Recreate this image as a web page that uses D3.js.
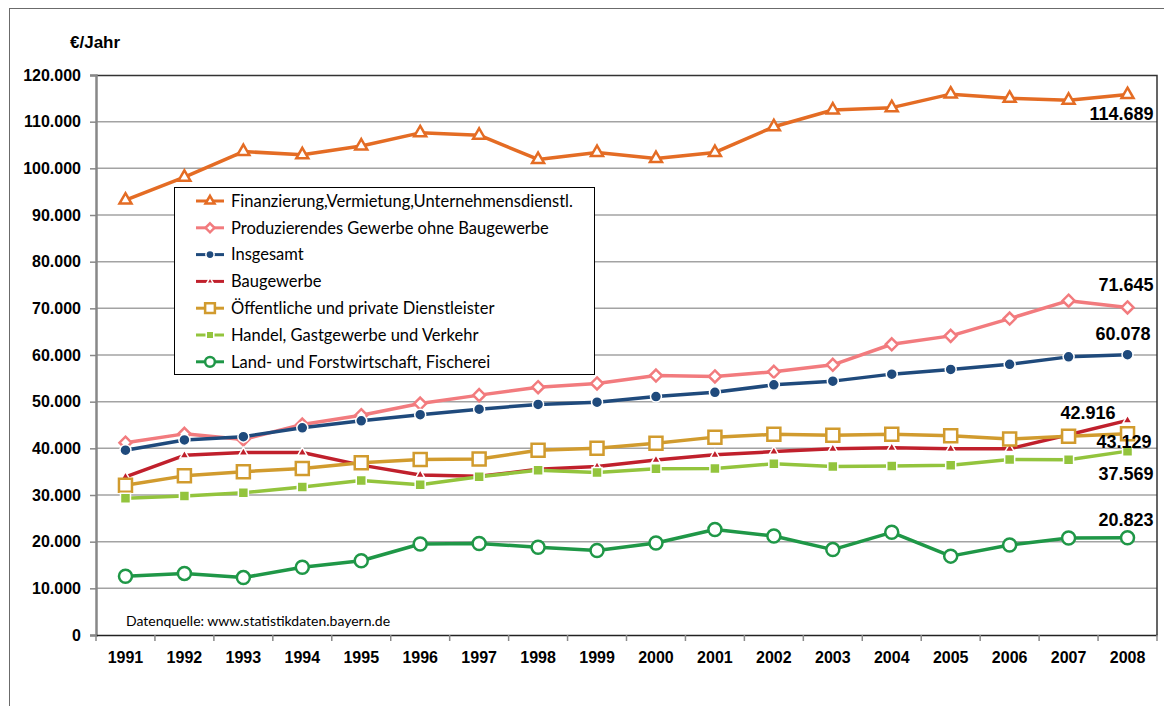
<!DOCTYPE html>
<html>
<head>
<meta charset="utf-8">
<script src="https://cdnjs.cloudflare.com/ajax/libs/d3/7.8.5/d3.min.js"></script>
<style>
  body { margin: 0; background: #fff; }
  .axis text { font-family: "Liberation Sans", Arial, sans-serif; font-weight: bold; fill: #000; }
  .legend text { font-family: Lato, "Open Sans", sans-serif; font-size: 16.5px; fill: #000; }
</style>
</head>
<body>
<div id="chart"></div>
<script>
// Line chart: Arbeitnehmerentgelt je Arbeitnehmer nach Wirtschaftsbereichen

// Data
var years = ["1991", "1992", "1993", "1994", "1995", "1996", "1997", "1998", "1999",
  "2000", "2001", "2002", "2003", "2004", "2005", "2006", "2007", "2008"];

var finanzierung = [93200, 98100, 103600, 102900, 104800, 107600, 107100, 101900, 103400,
  102100, 103400, 108900, 112500, 113000, 115900, 115000, 114600, 115800];
var produzierendes = [41200, 43100, 41900, 45100, 47100, 49600, 51400, 53100, 53900,
  55600, 55400, 56400, 57900, 62300, 64100, 67800, 71645, 70200];
var insgesamt = [39600, 41800, 42500, 44400, 45900, 47200, 48400, 49400, 49900,
  51100, 52000, 53600, 54400, 55900, 56900, 58000, 59600, 60078];
var baugewerbe = [33900, 38500, 39100, 39100, 36400, 34300, 34000, 35500, 36100,
  37500, 38600, 39300, 39900, 40100, 39900, 39900, 42916, 46000];
var oeffentliche = [32100, 34100, 35000, 35700, 36900, 37600, 37700, 39600, 40000,
  41100, 42400, 43000, 42800, 43000, 42700, 42000, 42600, 43129];
var handel = [29300, 29800, 30500, 31700, 33100, 32200, 33900, 35300, 34800,
  35600, 35700, 36700, 36100, 36200, 36400, 37600, 37569, 39400];
var land = [12600, 13200, 12300, 14500, 15900, 19500, 19600, 18800, 18100,
  19700, 22600, 21200, 18300, 22000, 16900, 19300, 20800, 20823];

var seriesNames = ["Finanzierung,Vermietung,Unternehmensdienstl.",
  "Produzierendes Gewerbe ohne Baugewerbe",
  "Insgesamt",
  "Baugewerbe",
  "Öffentliche und private Dienstleister",
  "Handel, Gastgewerbe und Verkehr",
  "Land- und Forstwirtschaft, Fischerei"];

var yTicks = [0, 10000, 20000, 30000, 40000, 50000, 60000, 70000, 80000, 90000,
  100000, 110000, 120000];

// value labels at the end of the lines
var endLabels = ["114.689", "71.645", "60.078", "42.916", "43.129", "37.569", "20.823"];

// Styles (one per series, same order as seriesNames)
var seriesStyle = [
  { color: "#E46C24", symbol: "triangle", size: 12, hollow: true },
  { color: "#F27B7E", symbol: "diamond", size: 10, hollow: true },
  { color: "#1F4A7C", symbol: "circle", size: 11, hollow: false },
  { color: "#C0202C", symbol: "triangle", size: 9, hollow: false },
  { color: "#D19B2E", symbol: "square", size: 13, hollow: true },
  { color: "#93C43D", symbol: "square", size: 10, hollow: false },
  { color: "#1F9747", symbol: "circle", size: 13, hollow: true }
];
// offsets of the end labels from the last point
var labelDx = [26, 26, 23, -12, 24, 26, 26];
var labelDy = [19, -23, -21, -8, 8, 22, -18];

var seriesValues = [finanzierung, produzierendes, insgesamt, baugewerbe, oeffentliche, handel, land];

// Size
var width = 1164;
var height = 706;

var margin = {
  top: 75,
  left: 96,
  right: 7,
  bottom: 71
};

var plotWidth = width - margin.left - margin.right;
var plotHeight = height - margin.top - margin.bottom;

var svg = d3.select("#chart")
  .append("svg")
  .attr("width", width)
  .attr("height", height)
  .style("display", "block");

svg.append("rect")
  .attr("width", width)
  .attr("height", height)
  .attr("fill", "#fff");

// outer chart frame (cut off at the right and bottom)
svg.append("rect")
  .attr("x", 9.5)
  .attr("y", 8.5)
  .attr("width", 1300)
  .attr("height", 900)
  .attr("fill", "none")
  .attr("stroke", "#6b6b6b")
  .attr("stroke-width", 1);

var g = svg.append("g")
  .attr("transform", "translate(" + margin.left + "," + margin.top + ")");

// German number format (120.000)
var de = d3.formatLocale({ decimal: ",", thousands: ".", grouping: [3], currency: ["", " €"] });
var fmt = de.format(",");

// scales
var x = d3.scaleBand()
  .domain(years)
  .range([0, plotWidth]);

var y = d3.scaleLinear()
  .domain([0, 120000])
  .range([plotHeight, 0]);

// gridlines
g.append("g")
  .attr("class", "grid")
  .selectAll("line")
  .data(yTicks.filter(function(d) { return d > 0 && d < 120000; }))
  .enter()
  .append("line")
  .attr("x1", 0)
  .attr("x2", plotWidth)
  .attr("y1", function(d) { return y(d); })
  .attr("y2", function(d) { return y(d); })
  .attr("stroke", "#a3a3a3")
  .attr("stroke-width", 1.5);

// plot area border top + right
g.append("path")
  .attr("d", "M0,0.5H" + plotWidth + "V" + plotHeight)
  .attr("fill", "none")
  .attr("stroke", "#333")
  .attr("stroke-width", 1.5);

// y axis
var yAxis = d3.axisLeft(y)
  .tickValues(yTicks)
  .tickFormat(fmt)
  .tickSize(6)
  .tickPadding(9);

var yAxisG = g.append("g")
  .attr("class", "axis y")
  .call(yAxis);
yAxisG.selectAll("text").style("font-size", "16px");
yAxisG.selectAll(".tick line").attr("stroke", "#888").attr("stroke-width", 1.5);
yAxisG.select(".domain").attr("stroke", "#888").attr("stroke-width", 2.5);

// x axis (labels centred, ticks between categories)
var xAxis = d3.axisBottom(x)
  .tickSize(0)
  .tickPadding(17);

var xAxisG = g.append("g")
  .attr("class", "axis x")
  .attr("transform", "translate(0," + plotHeight + ")")
  .call(xAxis);
xAxisG.selectAll("text").style("font-size", "16px");
xAxisG.select(".domain").attr("stroke", "#222").attr("stroke-width", 1.5);

xAxisG.selectAll(".sep")
  .data(years.concat(["end"]))
  .enter()
  .append("line")
  .attr("class", "sep")
  .attr("x1", function(d, i) { return i * x.step(); })
  .attr("x2", function(d, i) { return i * x.step(); })
  .attr("y1", 0)
  .attr("y2", 6)
  .attr("stroke", "#888")
  .attr("stroke-width", 1.5);

// unit label
svg.append("text")
  .attr("x", 70)
  .attr("y", 48)
  .style("font-family", "Liberation Sans, Arial, sans-serif")
  .style("font-weight", "bold")
  .style("font-size", "17px")
  .text("€/Jahr");

// marker path
function markerPath(style) {
  var s = style.size;
  if (style.symbol == "diamond") {
    var h = s / 2 * 1.2;
    return "M0," + (-h) + "L" + h + ",0L0," + h + "L" + (-h) + ",0Z";
  }
  var type = { triangle: d3.symbolTriangle, circle: d3.symbolCircle, square: d3.symbolSquare }[style.symbol];
  var area;
  if (style.symbol == "circle") area = Math.PI * (s / 2) * (s / 2);
  else if (style.symbol == "square") area = s * s;
  else area = s * s * Math.sqrt(3) / 4;
  return d3.symbol().type(type).size(area)();
}

function drawMarker(sel, style) {
  sel.attr("d", markerPath(style))
    .attr("fill", style.hollow ? "#fff" : style.color)
    .attr("stroke", style.hollow ? style.color : "#fff")
    .attr("stroke-width", style.hollow ? 2.5 : 1.5);
}

var line = d3.line()
  .x(function(d, i) { return x(years[i]) + x.bandwidth() / 2; })
  .y(function(d) { return y(d); });

// lines and markers
seriesValues.forEach(function(values, k) {
  var st = seriesStyle[k];
  var sg = g.append("g").attr("class", "series");

  sg.append("path")
    .datum(values)
    .attr("d", line)
    .attr("fill", "none")
    .attr("stroke", st.color)
    .attr("stroke-width", 3.5)
    .attr("stroke-linejoin", "round");

  sg.selectAll(".pt")
    .data(values)
    .enter()
    .append("path")
    .attr("class", "pt")
    .attr("transform", function(d, i) {
      return "translate(" + (x(years[i]) + x.bandwidth() / 2) + "," + y(d) + ")";
    })
    .call(drawMarker, st);
});

// end labels
var lastX = x(years[years.length - 1]) + x.bandwidth() / 2;
g.append("g")
  .selectAll("text")
  .data(endLabels)
  .enter()
  .append("text")
  .attr("x", function(d, k) { return lastX + labelDx[k]; })
  .attr("y", function(d, k) {
    var v = seriesValues[k];
    return y(v[v.length - 1]) + labelDy[k];
  })
  .attr("dy", "0.36em")
  .attr("text-anchor", "end")
  .style("font-family", "Liberation Sans, Arial, sans-serif")
  .style("font-weight", "bold")
  .style("font-size", "18px")
  .text(function(d) { return d; });

// source note
g.append("text")
  .attr("x", 30)
  .attr("y", plotHeight - 9)
  .style("font-family", "Lato, sans-serif")
  .style("font-size", "14px")
  .text("Datenquelle: www.statistikdaten.bayern.de");

// legend
var legend = svg.append("g")
  .attr("class", "legend")
  .attr("transform", "translate(174,187)");

legend.append("rect")
  .attr("x", 0.5)
  .attr("y", 0.5)
  .attr("width", 420)
  .attr("height", 187)
  .attr("fill", "#fff")
  .attr("stroke", "#000")
  .attr("stroke-width", 1);

var items = legend.selectAll(".item")
  .data(seriesNames)
  .enter()
  .append("g")
  .attr("class", "item")
  .attr("transform", function(d, i) { return "translate(0," + (14 + i * 26.8) + ")"; });

items.append("line")
  .attr("x1", 22)
  .attr("x2", 50)
  .attr("stroke", function(d, i) { return seriesStyle[i].color; })
  .attr("stroke-width", 3);

items.append("path")
  .attr("transform", "translate(36,0)")
  .each(function(d, i) {
    var st = Object.assign({}, seriesStyle[i]);
    st.size = st.size * 0.75;
    d3.select(this).call(drawMarker, st);
  });

items.append("text")
  .attr("x", 57)
  .attr("dy", "0.35em")
  .text(function(d) { return d; });
</script>
</body>
</html>
